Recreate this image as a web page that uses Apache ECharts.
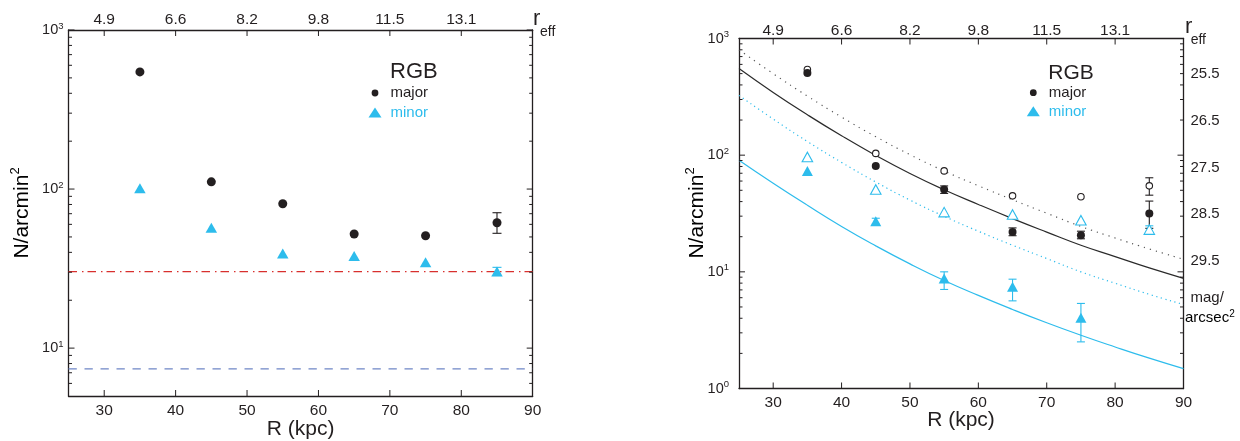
<!DOCTYPE html>
<html>
<head>
<meta charset="utf-8">
<script src="https://cdn.jsdelivr.net/npm/echarts@6/dist/echarts.min.js"></script>
<style>
  html, body { margin: 0; padding: 0; background: #ffffff; }
  #chart { width: 1240px; height: 441px; }
</style>
</head>
<body>
<div id="chart"></div>
<script>
// ---- data -------------------------------------------------------------
const radii = [35, 45, 55, 65, 75, 85];            // field radius, kpc

// left panel: raw RGB counts
const leftMajor = [545, 111, 80.9, 52.2, 50.9, 61.4];
const leftMinor = [101, 57.2, 39.4, 38.0, 34.7, 30.3];
const leftMajorErr = [[85, 52.7, 71.0]];
const leftMinorErr = [[85, 28.6, 32.2]];
const contamLevel = 30.3;     // dash-dot level
const backgroundLevel = 7.4;  // dashed level

// right panel: background-subtracted counts
const rightMajor     = [507, 80.9, 50.8, 22.0, 20.6, 31.6];
const rightMajorOpen = [542, 103.5, 73.3, 44.8, 44.0, 54.6];
const rightMinor     = [73.3, 27.2, 8.77, 7.45, 4.04, null];
const rightMinorOpen = [96.6, 50.8, 32.5, 31.0, 27.7, 23.0];
const rightMajorErr     = [[55, 47.0, 54.5], [65, 20.4, 23.8], [75, 19.2, 22.3], [85, 23.6, 40.4]];
const rightMajorOpenErr = [[85, 45.4, 64.0]];
const rightMinorErr     = [[45, 25.6, 28.8], [55, 7.06, 10.0], [65, 5.64, 8.65], [75, 2.51, 5.36]];
const rightMinorOpenErr = [[85, 21.4, 24.8]];

// profile curves sampled along R
const curveR        = [25, 30, 35, 40, 45, 50, 55, 60, 65, 70, 75, 80, 85, 90];
const majorFit      = [553, 345, 222, 146.6, 99.5, 69.7, 50.5, 37.8, 28.6, 21.9, 16.9, 13.5, 10.8, 8.8];
const majorFitUpper = [800, 500, 321, 212, 144, 101, 73.1, 54.7, 41.5, 31.8, 24.5, 19.5, 15.7, 12.8];
const minorFit      = [90.6, 57.5, 37.2, 24.5, 16.7, 11.7, 8.43, 6.28, 4.76, 3.66, 2.86, 2.27, 1.82, 1.48];
const minorFitUpper = [325, 204, 131, 86.7, 58.9, 41.2, 29.9, 22.3, 16.9, 13.0, 10.0, 7.98, 6.41, 5.25];

// axis ticks and labels
const rTicks = [30, 40, 50, 60, 70, 80];
const rLabelValues = [30, 40, 50, 60, 70, 80, 90];
const rEffLabels = ['4.9', '6.6', '8.2', '9.8', '11.5', '13.1'];
const leftDecades = [10, 100, 1000];
const rightDecades = [1, 10, 100, 1000];
const magLabels = [25.5, 26.5, 27.5, 28.5, 29.5];

// ---- styling ----------------------------------------------------------
const FONT = "'Liberation Sans', Arial, Helvetica, sans-serif";
const INK = '#231f20';
const CYAN = '#2dbcec';

function minorTickValues(lo, hi) {
  const out = [];
  for (let d = 1; d <= 1000; d *= 10) {
    for (let k = 2; k <= 9; k++) {
      const v = k * d;
      if (v > lo && v < hi) out.push(v);
    }
  }
  return out;
}

const powRich = {
  b: { fontSize: 14.5, fontFamily: FONT, color: INK, lineHeight: 18 },
  s: { fontSize: 9.5, fontFamily: FONT, color: INK, lineHeight: 7, verticalAlign: 'top' }
};

const frameLine = { show: true, onZero: false, lineStyle: { color: INK, width: 1.3 } };

function yLog(gi, pos, lo, hi, opts) {
  return Object.assign({
    gridIndex: gi, type: 'log', logBase: 10, position: pos, min: lo, max: hi,
    axisLine: frameLine,
    axisTick: { show: false },
    axisLabel: { show: false },
    splitLine: { show: false }
  }, opts);
}

function panelYAxes(gi, lo, hi, decades, labelMargin) {
  return [
    yLog(gi, 'left', lo, hi, {
      axisLabel: {
        show: true, customValues: decades, margin: labelMargin,
        formatter: v => '{b|10}{s|' + Math.round(Math.log10(v)) + '}',
        rich: powRich
      }
    }),
    yLog(gi, 'right', lo, hi, {})
  ];
}

function panelXAxes(gi, bottomMargin, topMargin) {
  return [
    {
      gridIndex: gi, type: 'value', position: 'bottom', min: 25, max: 90,
      axisLine: frameLine, axisTick: { show: false }, splitLine: { show: false },
      axisLabel: { customValues: rLabelValues, margin: bottomMargin, fontSize: 15.5, fontFamily: FONT, color: INK }
    },
    {
      gridIndex: gi, type: 'value', position: 'top', min: 25, max: 90,
      axisLine: frameLine, axisTick: { show: false }, splitLine: { show: false },
      axisLabel: {
        customValues: rTicks, margin: topMargin, fontSize: 15.5, fontFamily: FONT, color: INK,
        formatter: v => rEffLabels[rTicks.indexOf(Math.round(v))]
      }
    }
  ];
}

// magnitude scale of the right panel: mag = 32.235 - 2.5 log10(N)
const magAxis = {
  gridIndex: 1, type: 'value', position: 'right', inverse: true,
  min: 24.735, max: 32.235,
  axisLine: { show: false }, axisTick: { show: false }, splitLine: { show: false },
  axisLabel: {
    customValues: magLabels, margin: 7, fontSize: 15, fontFamily: FONT, color: INK,
    formatter: v => v.toFixed(1)
  }
};

// inward frame ticks, placed through the panel's own scales
// item: [x, y, length, side]  side 0 left, 1 right, 2 bottom, 3 top
function frameTicks(xi, yi, lo, hi, decades) {
  const data = [];
  decades.forEach(v => { data.push([25, v, 6, 0]); data.push([90, v, 6, 1]); });
  minorTickValues(lo, hi).forEach(v => { data.push([25, v, 3.5, 0]); data.push([90, v, 3.5, 1]); });
  rTicks.forEach(r => { data.push([r, lo, 6, 2]); data.push([r, hi, 6, 3]); });
  return {
    name: 'ticks', type: 'custom', xAxisIndex: xi, yAxisIndex: yi, z: 6, silent: true, clip: false,
    data: data, encode: { x: 0, y: 1 },
    renderItem: (params, api) => {
      const p = api.coord([api.value(0), api.value(1)]);
      const len = api.value(2), side = api.value(3);
      let x2 = p[0], y2 = p[1];
      if (side === 0) x2 += len; else if (side === 1) x2 -= len;
      else if (side === 2) y2 -= len; else y2 += len;
      return { type: 'line', shape: { x1: p[0], y1: p[1], x2: x2, y2: y2 }, style: { stroke: INK, lineWidth: 1 } };
    }
  };
}

function pairs(xs, ys) {
  return xs.map((x, i) => [x, ys[i]]).filter(p => p[1] != null);
}

function errorBars(name, xi, yi, data, color, cap, width) {
  return {
    name: name, type: 'custom', xAxisIndex: xi, yAxisIndex: yi, z: 3,
    data: data, encode: { x: 0, y: [1, 2] },
    renderItem: (params, api) => {
      const lo = api.coord([api.value(0), api.value(1)]);
      const hi = api.coord([api.value(0), api.value(2)]);
      const st = { stroke: color, lineWidth: width };
      return {
        type: 'group',
        children: [
          { type: 'line', shape: { x1: lo[0], y1: lo[1], x2: hi[0], y2: hi[1] }, style: st },
          { type: 'line', shape: { x1: lo[0] - cap, y1: lo[1], x2: lo[0] + cap, y2: lo[1] }, style: st },
          { type: 'line', shape: { x1: hi[0] - cap, y1: hi[1], x2: hi[0] + cap, y2: hi[1] }, style: st }
        ]
      };
    }
  };
}

function curve(name, xi, yi, ys, color, type, width) {
  return {
    name: name, type: 'line', xAxisIndex: xi, yAxisIndex: yi, z: 1,
    data: pairs(curveR, ys), smooth: 0.5, symbol: 'none',
    lineStyle: { color: color, type: type, width: width }
  };
}

function level(name, value, color, dash) {
  return {
    name: name, type: 'line', xAxisIndex: 0, yAxisIndex: 0, z: 1,
    data: [[25, value], [90, value]], symbol: 'none',
    lineStyle: { color: color, type: dash, width: 1.2 }
  };
}

function scatter(name, xi, yi, ys, symbol, size, fill, border) {
  return {
    name: name, type: 'scatter', xAxisIndex: xi, yAxisIndex: yi, z: 4,
    data: pairs(radii, ys), symbol: symbol, symbolSize: size,
    itemStyle: border
      ? { color: '#ffffff', borderColor: border, borderWidth: 1.1, opacity: 1 }
      : { color: fill, opacity: 1 }
  };
}

function txt(x, y, text, size, color, align, extra) {
  return Object.assign({
    type: 'text', x: x, y: y, z: 10,
    style: {
      text: text, fontSize: size, fontFamily: FONT, fill: color,
      align: align || 'left', verticalAlign: 'middle',
      textAlign: align || 'left', textVerticalAlign: 'middle'
    }
  }, extra || {});
}

function legend(mx, y0, dMajor, dMinor, rgbSize) {
  return [
    txt(mx + 15, y0, 'RGB', rgbSize, INK),
    { type: 'circle', z: 10, shape: { cx: mx, cy: y0 + dMajor, r: 3.4 }, style: { fill: INK } },
    txt(mx + 15.5, y0 + dMajor, 'major', 15, INK),
    { type: 'polygon', z: 10, shape: { points: [[mx, y0 + dMinor - 5.5], [mx - 6.5, y0 + dMinor + 4.5], [mx + 6.5, y0 + dMinor + 4.5]] }, style: { fill: CYAN } },
    txt(mx + 15.5, y0 + dMinor, 'minor', 15, CYAN)
  ];
}

const titleRich = {
  b: { fontSize: 21, fontFamily: FONT, color: INK, lineHeight: 26 },
  s: { fontSize: 13, fontFamily: FONT, color: INK, lineHeight: 9, verticalAlign: 'top' }
};

function yTitle(x, y) {
  return {
    type: 'text', x: x, y: y, rotation: Math.PI / 2, z: 10,
    style: {
      text: '{b|N/arcmin}{s|2}', rich: titleRich,
      align: 'center', verticalAlign: 'middle', textAlign: 'center', textVerticalAlign: 'middle'
    }
  };
}

const option = {
  animation: false,
  backgroundColor: '#ffffff',
  textStyle: { fontFamily: FONT, color: INK },
  grid: [
    { left: 68.5, top: 30, width: 464.2, height: 366 },
    { left: 739, top: 38.5, width: 444.5, height: 350 }
  ],
  xAxis: [].concat(panelXAxes(0, 7, 2), panelXAxes(1, 6, 0)),
  yAxis: [].concat(panelYAxes(0, 5, 1000, leftDecades, 5), panelYAxes(1, 1, 1000, rightDecades, 10), [magAxis]),
  series: [
    // left panel
    frameTicks(0, 0, 5, 1000, leftDecades),
    level('contamination', contamLevel, '#d8302e', [8.5, 5, 1.5, 4]),
    level('background', backgroundLevel, '#6f86c6', [8.3, 7.7]),
    errorBars('major err', 0, 0, leftMajorErr, INK, 4.5, 1.1),
    errorBars('minor err', 0, 0, leftMinorErr, CYAN, 4.5, 1.1),
    scatter('major', 0, 0, leftMajor, 'circle', 9, INK),
    scatter('minor', 0, 0, leftMinor, 'triangle', [11.5, 10], CYAN),

    // right panel
    frameTicks(2, 2, 1, 1000, rightDecades),
    curve('major profile', 2, 2, majorFit, '#2a2a2a', 'solid', 1.2),
    curve('major profile upper', 2, 2, majorFitUpper, '#555555', [1.2, 5], 1.2),
    curve('minor profile', 2, 2, minorFit, CYAN, 'solid', 1.2),
    curve('minor profile upper', 2, 2, minorFitUpper, CYAN, [1.2, 3.5], 1.2),
    errorBars('major err r', 2, 2, rightMajorErr, INK, 4, 1.1),
    errorBars('major open err r', 2, 2, rightMajorOpenErr, INK, 4, 1.1),
    errorBars('minor err r', 2, 2, rightMinorErr, CYAN, 4, 1.1),
    errorBars('minor open err r', 2, 2, rightMinorOpenErr, CYAN, 4, 1.1),
    scatter('major open', 2, 2, rightMajorOpen, 'circle', 6.5, null, INK),
    scatter('major r', 2, 2, rightMajor, 'circle', 8, INK),
    scatter('minor open', 2, 2, rightMinorOpen, 'triangle', [10.5, 9.5], null, CYAN),
    scatter('minor r', 2, 2, rightMinor, 'triangle', [11, 10], CYAN)
  ],
  graphic: [].concat(
    legend(375, 72, 21, 41, 22),
    legend(1033.3, 73.3, 19.4, 38.4, 21),
    [
      // axis titles
      txt(300.6, 429, 'R (kpc)', 21, INK, 'center'),
      txt(961, 420, 'R (kpc)', 21, INK, 'center'),
      yTitle(22, 213),
      yTitle(697, 213),
      // r_eff labels of the top axes
      txt(533, 19, 'r', 22, INK),
      txt(540, 32.5, 'eff', 14, INK),
      txt(1185, 26.5, 'r', 22, INK),
      txt(1190.7, 40.5, 'eff', 14, INK),
      // unit of the magnitude scale
      txt(1190.5, 298, 'mag/', 15, INK),
      {
        type: 'text', x: 1185, y: 318, z: 10,
        style: {
          text: '{b|arcsec}{s|2}',
          rich: {
            b: { fontSize: 15, fontFamily: FONT, color: INK, lineHeight: 18 },
            s: { fontSize: 10, fontFamily: FONT, color: INK, lineHeight: 8, verticalAlign: 'top' }
          },
          align: 'left', verticalAlign: 'middle', textAlign: 'left', textVerticalAlign: 'middle'
        }
      }
    ]
  )
};

const chart = echarts.init(document.getElementById('chart'), null, { renderer: 'canvas' });
chart.setOption(option);
</script>
</body>
</html>
